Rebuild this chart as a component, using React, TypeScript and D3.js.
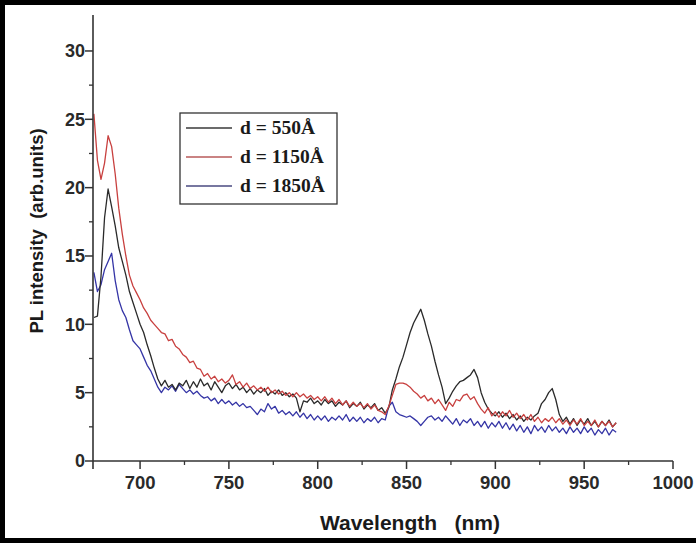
import React from "react";
import * as d3 from "d3";

const W = 696;
const H = 543;

// Wavelength sampling (nm), 2 nm step from 674 to 968
const wavelengths: number[] = d3.range(674, 969, 2);

const seriesLabels = ["d = 550Å", "d = 1150Å", "d = 1850Å"];
const seriesColors = ["#2a2a2a", "#c8403f", "#3535a6"];
const legendColors = ["#3a3a3a", "#b85a5a", "#4a4a80"];

const black550: number[] = [
  10.5, 10.6, 13.5, 17.8, 19.9, 18.6, 17.2, 15.6, 14.6, 13.6,
  12.4, 11.6, 10.8, 10.0, 9.4, 8.5, 7.7, 6.8, 6.0, 5.5,
  5.9, 5.4, 5.6, 5.2, 5.7, 5.5, 5.9, 5.3, 5.8, 5.4,
  6.0, 5.5, 5.7, 5.2, 5.8, 5.4, 5.0, 5.5, 5.7, 5.3,
  5.6, 5.2, 5.4, 5.0, 5.3, 4.9, 5.2, 5.0, 5.3, 4.8,
  5.1, 4.9, 5.2, 4.8, 5.0, 4.7, 4.9, 4.6, 3.6, 4.4,
  4.3, 4.6, 4.2, 4.4, 4.1, 4.5, 4.2, 4.4, 4.0, 4.3,
  4.1, 4.4, 3.9, 4.2, 4.0, 4.3, 3.8, 4.1, 3.9, 4.2,
  3.7, 3.9, 3.5, 3.9, 5.2, 6.0, 6.9, 7.6, 8.5, 9.4,
  10.1, 10.6, 11.1, 10.3, 9.3, 8.4, 7.3, 6.3, 5.4, 4.2,
  4.6, 5.1, 5.5, 5.8, 5.9, 6.1, 6.3, 6.7, 6.1, 5.0,
  4.3, 3.8, 3.5, 3.3, 3.6, 3.2, 3.5, 3.1, 3.4, 3.0,
  3.3, 2.9, 3.2, 3.0, 3.3, 3.5, 4.2, 4.5, 5.0, 5.3,
  4.5, 3.4, 2.9, 3.2, 2.7, 3.1, 2.6, 3.0, 2.7, 3.1,
  2.6, 2.9, 2.5, 2.9, 2.6, 3.0, 2.5, 2.8,
];

const red1150: number[] = [
  25.4, 22.0, 20.6, 21.8, 23.8, 23.0, 21.0, 18.5, 16.6, 15.0,
  13.6, 12.8, 12.3, 11.8, 11.2, 10.8, 10.3, 10.0, 9.7, 9.4,
  9.3, 8.8, 8.9, 8.4, 8.2, 7.8, 7.6, 7.2, 7.3, 6.8,
  6.7, 6.2, 6.4, 6.0, 6.2, 5.8, 6.0, 5.7, 5.9, 6.3,
  5.6, 5.8, 5.4, 5.7, 5.3, 5.5, 5.2, 5.4, 5.1, 5.4,
  5.0, 5.2, 4.9, 5.1, 4.8, 5.0, 4.7, 5.0, 4.7, 4.9,
  4.6, 4.8, 4.5, 4.7, 4.4, 4.7, 4.3, 4.6, 4.2, 4.5,
  4.1, 4.4, 4.0, 4.3, 4.0, 4.2, 3.9, 4.2, 3.8, 4.1,
  3.7, 3.6, 3.4, 4.0, 4.8, 5.6, 5.7, 5.7, 5.6, 5.4,
  5.1, 4.9, 4.6, 4.8, 4.4, 4.6, 4.2, 4.5, 4.1, 3.7,
  4.3, 4.0, 4.5, 4.4, 4.8, 4.9, 4.5, 4.7, 4.2, 3.8,
  3.5, 3.9, 3.3, 3.6, 3.2, 3.6, 3.3, 3.7, 3.2, 3.5,
  3.1, 3.4, 3.0, 3.4, 2.9, 3.2, 2.8, 3.1, 2.9, 3.2,
  2.8, 3.1, 2.7, 3.0, 2.6, 3.0, 2.7, 3.1, 2.6, 2.9,
  2.6, 3.0, 2.5, 2.9, 2.6, 2.9, 2.5, 2.8,
];

const blue1850: number[] = [
  13.8, 12.4, 12.9, 14.0, 14.6, 15.2, 13.2, 11.8, 11.0, 10.5,
  9.6, 8.8, 8.5, 8.2, 7.6, 7.0, 6.6, 6.0, 5.4, 5.0,
  5.4, 5.2, 5.5, 5.1, 5.6, 5.3, 5.0, 5.2, 4.9, 5.1,
  4.8, 4.6, 4.7, 4.4, 4.6, 4.2, 4.5, 4.2, 4.4, 4.1,
  4.3, 4.0, 4.2, 3.9, 4.0, 3.7, 3.4, 3.8, 3.6, 4.2,
  3.8, 4.0, 3.5, 3.7, 3.4, 3.6, 3.3, 3.6, 3.2, 3.5,
  3.1, 3.4, 3.0, 3.3, 3.0, 3.3, 2.9, 3.2, 3.0, 3.3,
  3.0, 3.4, 2.9, 3.2, 2.9, 3.2, 2.8, 3.1, 2.9, 3.2,
  2.8, 3.1, 3.0, 4.0, 4.3, 3.6, 3.4, 3.3, 3.2, 3.3,
  3.1, 2.9, 2.6, 2.9, 3.2, 3.3, 3.0, 3.2, 2.9, 3.3,
  3.0, 2.7, 3.1, 2.6, 3.0, 2.8, 3.1, 2.6, 2.9, 2.5,
  2.9, 2.4, 2.8, 2.5, 2.9, 2.4, 2.8, 2.3, 2.7, 2.2,
  2.6, 2.1, 2.5, 2.0, 2.6, 2.2, 2.5, 2.1, 2.6, 2.2,
  2.5, 2.1, 2.4, 2.0, 2.5, 2.1, 2.4, 2.0, 2.5, 2.1,
  2.4, 1.9, 2.3, 2.0, 2.4, 1.9, 2.3, 2.1,
];

const xMajorTicks = [700, 750, 800, 850, 900, 950, 1000];
const xMinorTicks = [725, 775, 825, 875, 925, 975];
const yMajorTicks = [0, 5, 10, 15, 20, 25, 30];
const yMinorTicks = [2.5, 7.5, 12.5, 17.5, 22.5, 27.5];

export default function App() {
  const x = d3.scaleLinear().domain([673.5, 1000]).range([93, 673]);
  const y = d3.scaleLinear().domain([0, 32.5]).range([461, 16.8]);

  const axisColor = "#333";
  const sans = "Arial, 'Liberation Sans', Helvetica, sans-serif";
  const serif = "'Times New Roman', 'Liberation Serif', serif";

  const mk = (vals: number[]) =>
    d3
      .line<number>()
      .x((_, i) => x(wavelengths[i]))
      .y((d) => y(d))(vals.slice(0, wavelengths.length)) || "";

  const order = [2, 0, 1];
  const allSeries = [black550, red1150, blue1850];

  const x0 = x(673.5);
  const yBase = y(0);

  return (
    <svg
      width={W}
      height={H}
      style={{ position: "absolute", left: 0, top: 0, background: "#fff" }}
    >
      <rect x={0} y={0} width={W} height={H} fill="#fff" />
      {/* frame */}
      <rect x={0} y={0} width={W} height={5} fill="#000" />
      <rect x={0} y={0} width={5} height={H} fill="#000" />
      <rect x={0} y={538} width={W} height={5} fill="#000" />

      {/* curves */}
      {order.map((k) => (
        <path
          key={k}
          d={mk(allSeries[k])}
          fill="none"
          stroke={seriesColors[k]}
          strokeWidth={1.3}
          strokeLinejoin="round"
        />
      ))}

      {/* axes */}
      <line x1={x0} x2={x0} y1={15} y2={469} stroke={axisColor} strokeWidth={1.6} />
      <line x1={x0} x2={x(1000)} y1={yBase} y2={yBase} stroke={axisColor} strokeWidth={1.6} />

      {yMajorTicks.map((t) => (
        <g key={"ym" + t}>
          <line x1={x0 - 8} x2={x0} y1={y(t)} y2={y(t)} stroke={axisColor} strokeWidth={1.5} />
          <text
            x={x0 - 8}
            y={y(t)}
            dy="0.36em"
            textAnchor="end"
            fontFamily={sans}
            fontWeight="bold"
            fontSize={18}
            fill="#2a2a2a"
          >
            {t}
          </text>
        </g>
      ))}
      {yMinorTicks.map((t) => (
        <line key={"yn" + t} x1={x0 - 4} x2={x0} y1={y(t)} y2={y(t)} stroke={axisColor} strokeWidth={1.3} />
      ))}

      {xMajorTicks.map((t) => (
        <g key={"xm" + t}>
          <line x1={x(t)} x2={x(t)} y1={yBase} y2={yBase + 8} stroke={axisColor} strokeWidth={1.5} />
          <text
            x={x(t)}
            y={489}
            textAnchor="middle"
            fontFamily={sans}
            fontWeight="bold"
            fontSize={18.5}
            fill="#2a2a2a"
          >
            {t}
          </text>
        </g>
      ))}
      {xMinorTicks.map((t) => (
        <line key={"xn" + t} x1={x(t)} x2={x(t)} y1={yBase} y2={yBase + 4} stroke={axisColor} strokeWidth={1.3} />
      ))}

      {/* axis titles */}
      <text
        transform="translate(43,231) rotate(-90)"
        textAnchor="middle"
        fontFamily={sans}
        fontWeight="bold"
        fontSize={18.5}
        fill="#1a1a1a"
        style={{ whiteSpace: "pre" }}
      >
        {"PL intensity  (arb.units)"}
      </text>
      <text
        x={410}
        y={530}
        textAnchor="middle"
        fontFamily={sans}
        fontWeight="bold"
        fontSize={21}
        fill="#1a1a1a"
        style={{ whiteSpace: "pre" }}
      >
        {"Wavelength   (nm)"}
      </text>

      {/* legend */}
      <rect x={180} y={113} width={157} height={91} fill="#fff" stroke="#333" strokeWidth={1.3} />
      {seriesLabels.map((lab, i) => {
        const ly = 128 + i * 29;
        return (
          <g key={lab}>
            <line x1={186} x2={232} y1={ly} y2={ly} stroke={legendColors[i]} strokeWidth={1.5} />
            <text
              x={240}
              y={ly}
              dy="0.33em"
              fontFamily={serif}
              fontWeight="bold"
              fontSize={19.5}
              fill="#1a1a1a"
            >
              {lab}
            </text>
          </g>
        );
      })}
    </svg>
  );
}
